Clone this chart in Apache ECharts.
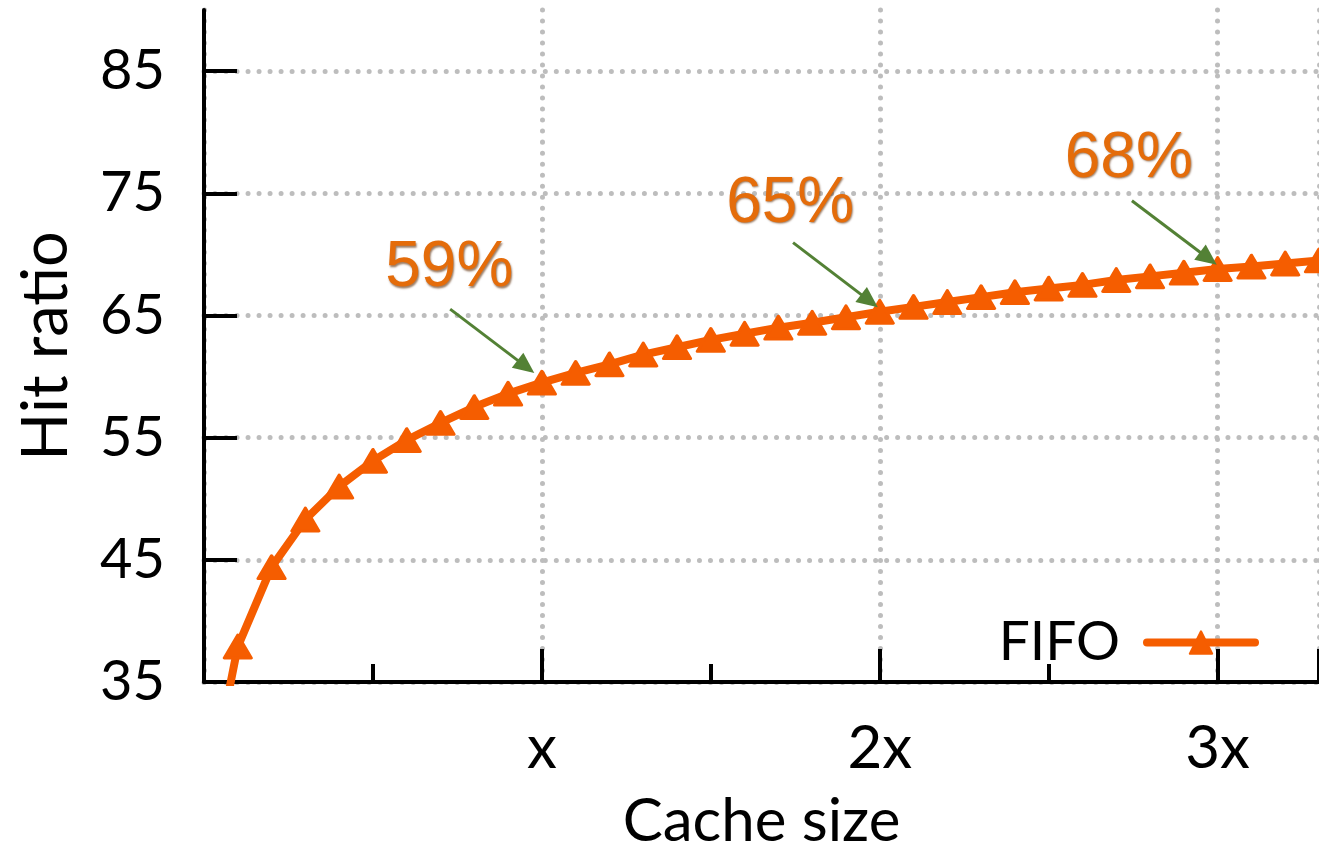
<!DOCTYPE html>
<html><head><meta charset="utf-8">
<script src="https://cdn.jsdelivr.net/npm/echarts@6/dist/echarts.min.js"></script>
<style>html,body{margin:0;padding:0;background:#fff}#c{width:1319px;height:857px}</style>
</head><body><div id="c"></div>
<script>
const cacheSize = [0, 0.1, 0.2, 0.3, 0.4, 0.5, 0.6, 0.7, 0.8, 0.9, 1.0, 1.1, 1.2, 1.3, 1.4, 1.5, 1.6, 1.7, 1.8, 1.9, 2.0, 2.1, 2.2, 2.3, 2.4, 2.5, 2.6, 2.7, 2.8, 2.9, 3.0, 3.1, 3.2, 3.3];
const fifoHitRatio = [24, 37.9, 44.4, 48.3, 51.0, 53.1, 54.8, 56.2, 57.5, 58.6, 59.5, 60.3, 61.0, 61.8, 62.4, 63.0, 63.5, 64.0, 64.4, 64.85, 65.3, 65.7, 66.1, 66.5, 66.9, 67.2, 67.5, 67.9, 68.2, 68.5, 68.8, 69.0, 69.25, 69.5];
const yTicks = [35, 45, 55, 65, 75, 85];
const xTickLabels = {1: 'x', 2: '2x', 3: '3x'};
const annoTexts = ['59%', '65%', '68%'];
const annoAt = [[0.726, 68.85], [1.735, 74.12], [2.737, 77.78]];
const arrowFrom = [[0.7286, 65.52], [1.7434, 70.96], [2.7463, 74.39]];
const arrowTo = [[0.9528, 60.81], [1.9696, 66.19], [2.9726, 69.66]];

const FONT = 'Lato';
const ORANGE = '#f55d00';
const chart = echarts.init(document.getElementById('c'), null, {renderer: 'canvas'});
const gridDots = {color: '#bdbdbd', width: 5, type: [0.01, 11], cap: 'round'};

chart.setOption({
  animation: false,
  grid: {left: 204, right: -4, top: 10, bottom: 170, containLabel: false},
  legend: {
    right: 55, top: 610, align: 'right',
    itemWidth: 108, itemHeight: 28,
    lineStyle: {width: 8, cap: 'round'},
    textStyle: {fontFamily: FONT, fontSize: 55, color: '#000', padding: [0, 22, 0, 0]},
    data: ['FIFO']
  },
  xAxis: {
    type: 'value', min: 0, max: 3.3, interval: 1,
    name: 'Cache size', nameLocation: 'middle', nameGap: 110,
    nameTextStyle: {fontFamily: FONT, fontSize: 60, color: '#000'},
    axisLine: {show: true, onZero: false, lineStyle: {color: '#000', width: 4}},
    axisTick: {show: true, inside: true, length: 33, lineStyle: {color: '#000', width: 4}},
    minorTick: {show: true, splitNumber: 2, length: 18, lineStyle: {color: '#000', width: 4}},
    axisLabel: {
      margin: 37, fontFamily: FONT, fontSize: 60, color: '#000', showMaxLabel: false,
      formatter: v => xTickLabels[Math.round(v)] !== undefined && Math.abs(v - Math.round(v)) < 1e-6 ? xTickLabels[Math.round(v)] : ''
    },
    splitLine: {show: true, lineStyle: gridDots}
  },
  yAxis: {
    type: 'value', min: 35, max: 90, interval: 10,
    name: 'Hit ratio', nameLocation: 'middle', nameGap: 126,
    nameTextStyle: {fontFamily: FONT, fontSize: 63, color: '#000'},
    axisLine: {show: true, onZero: false, lineStyle: {color: '#000', width: 4}},
    axisTick: {show: true, inside: true, length: 33, customValues: yTicks, lineStyle: {color: '#000', width: 4}},
    axisLabel: {margin: 39, fontFamily: FONT, fontSize: 56, color: '#000', customValues: yTicks},
    splitLine: {show: true, lineStyle: gridDots}
  },
  series: [{
    name: 'FIFO', type: 'line',
    data: cacheSize.map((x, i) => [x, fifoHitRatio[i]]),
    clip: true,
    symbol: 'triangle', symbolSize: [27, 23], showAllSymbol: true,
    lineStyle: {color: ORANGE, width: 8, join: 'round', cap: 'round'},
    itemStyle: {color: ORANGE, borderColor: ORANGE, borderWidth: 3, borderJoin: 'round'},
    markLine: {
      silent: true, animation: false,
      symbol: ['none', 'triangle'], symbolSize: [19, 21],
      lineStyle: {color: '#538135', width: 3, type: 'solid'},
      label: {show: false},
      data: arrowFrom.map((p, i) => [{coord: p}, {coord: arrowTo[i]}])
    },
    markPoint: {
      silent: true, animation: false, symbol: 'circle', symbolSize: 0,
      label: {
        show: true, position: 'inside', formatter: p => p.name,
        fontFamily: 'Liberation Sans', fontSize: 64, color: '#e46c0a',
        textShadowColor: 'rgba(90,40,0,0.6)', textShadowBlur: 2, textShadowOffsetX: 1, textShadowOffsetY: 1.5
      },
      data: annoAt.map((p, i) => ({name: annoTexts[i], coord: p}))
    }
  }]
});
</script></body></html>
